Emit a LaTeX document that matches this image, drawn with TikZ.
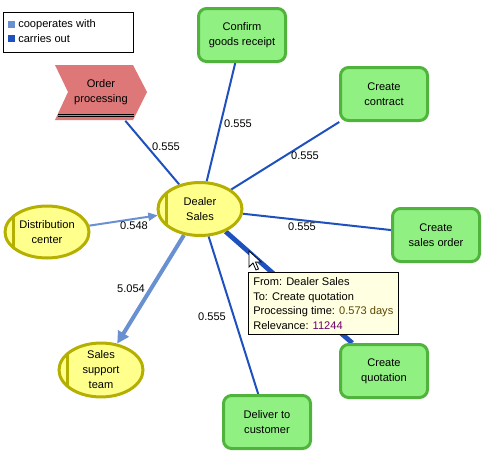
\documentclass[tikz,border=0pt]{standalone}
\usepackage{fontspec}
\setmainfont{Liberation Sans}
\usetikzlibrary{shapes.geometric,arrows.meta}
\pgfdeclarelayer{edges}
\pgfsetlayers{edges,main}
\definecolor{gfill}{RGB}{145,240,130}
\definecolor{gline}{RGB}{80,180,60}
\definecolor{yfill}{RGB}{255,255,140}
\definecolor{yline}{RGB}{180,175,0}
\definecolor{rfill}{RGB}{222,120,120}
\definecolor{dblue}{RGB}{30,80,190}
\definecolor{lblue}{RGB}{105,145,210}
\definecolor{tipfill}{RGB}{255,255,225}
\definecolor{timecol}{RGB}{90,70,0}
\definecolor{relcol}{RGB}{110,0,110}
\begin{document}
\begin{tikzpicture}[x=0.75pt,y=-0.75pt,
  every node/.style={font=\fontsize{8.3}{11.25}\selectfont},
  func/.style={rectangle,rounded corners=6pt,draw=gline,fill=gfill,line width=2.25pt,
    minimum width=87*0.75pt,minimum height=53*0.75pt,align=center,inner sep=0pt},
  org/.style={ellipse,draw=yline,fill=yfill,line width=2.25pt,align=center,inner sep=0pt,
    path picture={\draw[yline,line width=2.25pt]
      ([xshift=6.5pt]path picture bounding box.south west) --
      ([xshift=6.5pt]path picture bounding box.north west);}},
  dk/.style={draw=dblue,line width=1.5pt},
  lt/.style={draw=lblue,line width=1.5pt,-{Triangle[length=7pt,width=6pt]}},
  lbl/.style={inner sep=0pt},
]
\useasboundingbox (0,0) rectangle (482,450);
% legend
\node[draw=black,line width=0.75pt,minimum width=130*0.75pt,minimum height=40*0.75pt,inner sep=0pt] (legend) at (68,32) {};
\fill[lblue] (8,21) rectangle (15,28);
\fill[dblue] (8,35) rectangle (15,42);
\node[lbl,anchor=west] (leg1) at (18,24.5) {cooperates with};
\node[lbl,anchor=west] (leg2) at (18,38.5) {carries out};
% order processing
\fill[rfill] (55,65) -- (133,65) -- (147,92) -- (133,120) -- (55,120) -- (68,92) -- cycle;
\draw[black,line width=0.75pt] (58,114) -- (134,114);
\draw[black,line width=0.75pt] (58,116.5) -- (134,116.5);
\node[minimum width=91*0.75pt,minimum height=57*0.75pt,inner sep=0pt,align=center] (op) at (101,92) {Order\\processing};
% nodes
\node[org,minimum width=84*0.75pt,minimum height=53*0.75pt] (ds) at (200,209) {Dealer\\Sales};
\node[org,minimum width=84*0.75pt,minimum height=52*0.75pt] (dc) at (47,232) {Distribution\\center};
\node[org,minimum width=84*0.75pt,minimum height=43*0.75pt] (sst) at (101,370) {Sales\\support\\team};
\node[func] (cgr) at (242,35) {Confirm\\goods receipt};
\node[func] (cc) at (384,94) {Create\\contract};
\node[func] (cso) at (436,235) {Create\\sales order};
\node[func] (cq) at (384,371) {Create\\quotation};
\node[func] (dtc) at (267,422) {Deliver to\\customer};
% edges
\begin{pgfonlayer}{edges}
\draw[dk] (ds) -- (op);
\draw[dk] (ds) -- (cgr);
\draw[dk] (ds) -- (cc);
\draw[dk] (ds) -- (cso);
\draw[dk] (ds) -- (dtc);
\draw[draw=dblue,line width=3.6pt] (ds) -- (cq);
\draw[lt] (dc) -- (ds);
\draw[lt,line width=3pt,-{Triangle[length=9pt,width=9pt]}] (ds) -- (sst);
\end{pgfonlayer}
% labels
\node[lbl] (l1) at (166,147) {0.555};
\node[lbl] (l2) at (238,124) {0.555};
\node[lbl] (l3) at (305,156) {0.555};
\node[lbl] (l4) at (302,227) {0.555};
\node[lbl] (l5) at (212,317) {0.555};
\node[lbl] (l6) at (134,226) {0.548};
\node[lbl] (l7) at (131,289) {5.054};
% tooltip
\node[draw=black,fill=tipfill,line width=0.75pt,minimum width=150*0.75pt,minimum height=62*0.75pt,inner sep=0pt] (tip) at (323.5,303) {};
\node[lbl,anchor=base west] (t1) at (253,285) {From: Dealer Sales};
\node[lbl,anchor=base west] (t2) at (253,300) {To: Create quotation};
\node[lbl,anchor=base west] (t3) at (253,314.5) {Processing time: \textcolor{timecol}{0.573 days}};
\node[lbl,anchor=base west] (t4) at (253,329) {Relevance: \textcolor{relcol}{11244}};
% cursor
\draw[black,fill=white,line width=0.6pt,line join=miter] (249,251) -- ++(0,16) -- ++(4,-4) -- ++(3,7) -- ++(2.5,-1) -- ++(-3,-7) -- ++(5.5,0) -- cycle;
\end{tikzpicture}
\end{document}
